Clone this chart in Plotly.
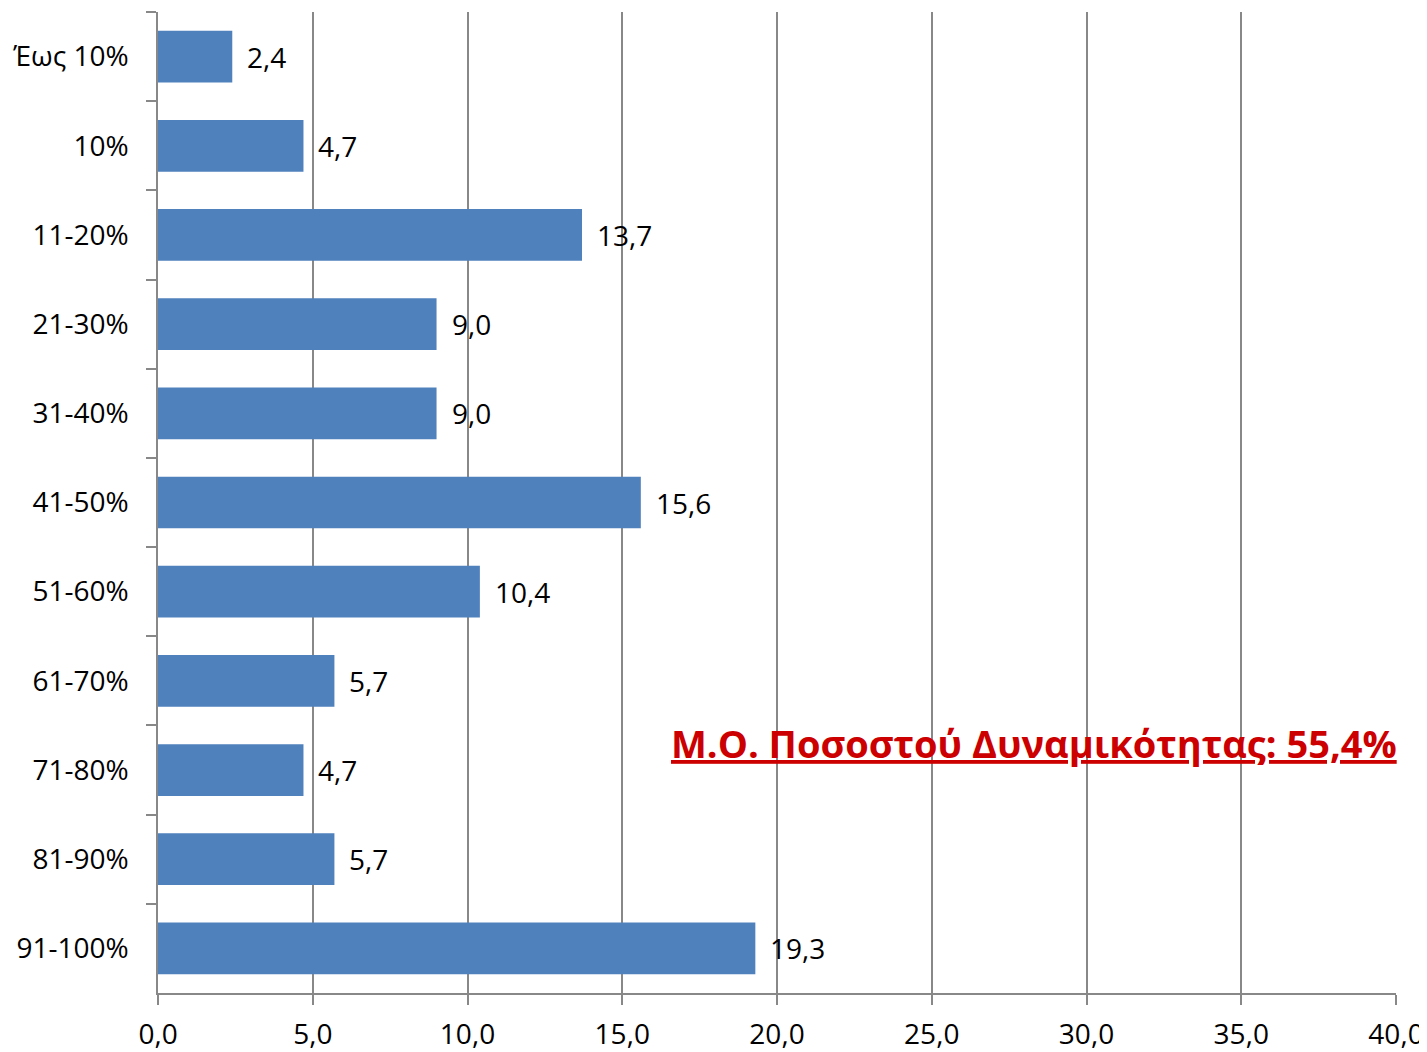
import plotly.graph_objects as go

categories = ["Έως 10%", "10%", "11-20%", "21-30%", "31-40%", "41-50%",
              "51-60%", "61-70%", "71-80%", "81-90%", "91-100%"]
values = [2.4, 4.7, 13.7, 9.0, 9.0, 15.6, 10.4, 5.7, 4.7, 5.7, 19.3]
x_ticks = [0, 5, 10, 15, 20, 25, 30, 35, 40]
note_text = "Μ.Ο. Ποσοστού Δυναμικότητας: 55,4%"

FONT = "Open Sans"
GRID = "#888888"

fig = go.Figure()
fig.add_trace(go.Bar(
    x=values, y=categories, orientation="h",
    marker=dict(color="#4F81BD", line=dict(width=0)),
    width=0.58,
    hoverinfo="skip",
))

for v, c in zip(values, categories):
    fig.add_annotation(
        x=v, y=c, xref="x", yref="y",
        text=f"{v:.1f}".replace(".", ","),
        showarrow=False, xanchor="left", yanchor="middle",
        xshift=13, yshift=0, font=dict(family=FONT, size=28, color="#000000"),
    )

fig.add_annotation(
    x=16.5, y=0.255, xref="x", yref="paper",
    text=f"<b><u>{note_text}</u></b>",
    showarrow=False, xanchor="left", yanchor="middle",
    font=dict(family=FONT, size=38, color="#CC0000"),
)

fig.update_layout(
    width=1427, height=1044,
    margin=dict(l=150, r=39, t=4, b=59, autoexpand=False),
    paper_bgcolor="white", plot_bgcolor="white",
    separators=",.",
    showlegend=False,
    font=dict(family=FONT, size=28, color="#000000"),
)
fig.update_xaxes(
    range=[0, 40], tickvals=x_ticks, tickformat=".1f",
    showgrid=True, gridcolor=GRID, gridwidth=1.5,
    showline=True, linecolor=GRID, linewidth=1.5,
    ticks="outside", ticklen=10, tickcolor=GRID, tickwidth=1.5,
    tickfont=dict(family=FONT, size=28, color="#000000"),
    ticklabelstandoff=6,
    zeroline=False, fixedrange=True, automargin=False,
)
fig.update_yaxes(
    categoryorder="array", categoryarray=categories, autorange="reversed",
    showgrid=False, showline=True, linecolor=GRID, linewidth=1.5,
    ticks="outside", tickson="boundaries", ticklen=10, tickcolor=GRID, tickwidth=1.5,
    tickfont=dict(family=FONT, size=28, color="#000000"),
    ticklabelstandoff=22,
    zeroline=False, fixedrange=True, automargin=False,
)

fig.write_html("out.html")
